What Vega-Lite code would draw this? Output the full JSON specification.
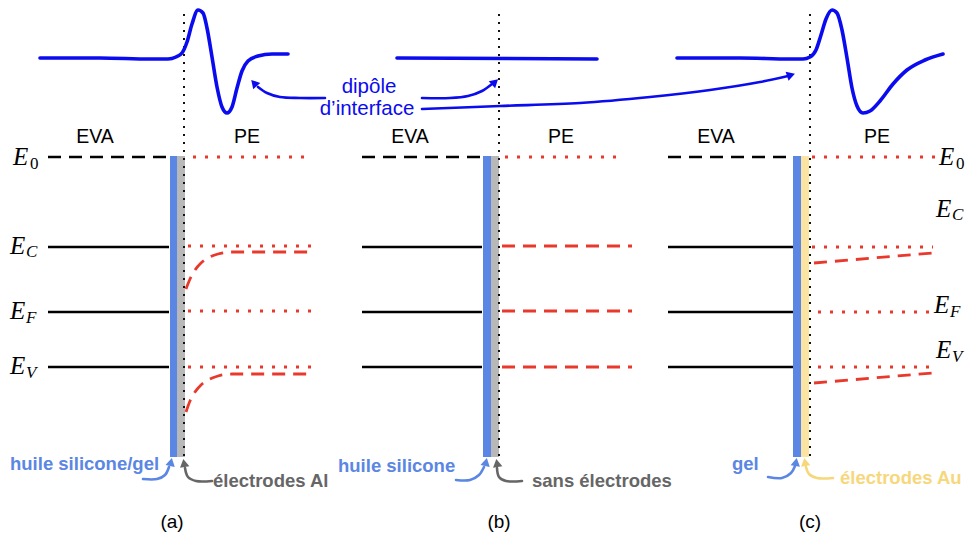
{
  "$schema": "https://vega.github.io/schema/vega-lite/v6.json",
  "width": 965,
  "height": 540,
  "autosize": {"type": "fit", "contains": "padding"},
  "padding": 0,
  "background": "white",
  "config": {"view": {"stroke": null}},
  "datasets": {
    "paths": [
      {"g":"pa","k":"potentiel","o":1,"x":40,"y":58},{"g":"pa","k":"potentiel","o":2,"x":100,"y":58},{"g":"pa","k":"potentiel","o":3,"x":150,"y":59},{"g":"pa","k":"potentiel","o":4,"x":168,"y":59},{"g":"pa","k":"potentiel","o":5,"x":176,"y":57},{"g":"pa","k":"potentiel","o":6,"x":182,"y":53},{"g":"pa","k":"potentiel","o":7,"x":187,"y":42},{"g":"pa","k":"potentiel","o":8,"x":192,"y":24},{"g":"pa","k":"potentiel","o":9,"x":198,"y":10},{"g":"pa","k":"potentiel","o":10,"x":203,"y":13},{"g":"pa","k":"potentiel","o":11,"x":207,"y":28},{"g":"pa","k":"potentiel","o":12,"x":212,"y":57},{"g":"pa","k":"potentiel","o":13,"x":217,"y":87},{"g":"pa","k":"potentiel","o":14,"x":222,"y":107},{"g":"pa","k":"potentiel","o":15,"x":227,"y":113},{"g":"pa","k":"potentiel","o":16,"x":232,"y":107},{"g":"pa","k":"potentiel","o":17,"x":237,"y":88},{"g":"pa","k":"potentiel","o":18,"x":242,"y":71},{"g":"pa","k":"potentiel","o":19,"x":248,"y":61},{"g":"pa","k":"potentiel","o":20,"x":258,"y":56},{"g":"pa","k":"potentiel","o":21,"x":272,"y":54},{"g":"pa","k":"potentiel","o":22,"x":288,"y":54},
      {"g":"pb","k":"potentiel","o":1,"x":397,"y":58},{"g":"pb","k":"potentiel","o":2,"x":597,"y":59},
      {"g":"pc","k":"potentiel","o":1,"x":677,"y":58},{"g":"pc","k":"potentiel","o":2,"x":740,"y":58},{"g":"pc","k":"potentiel","o":3,"x":790,"y":59},{"g":"pc","k":"potentiel","o":4,"x":803,"y":59},{"g":"pc","k":"potentiel","o":5,"x":810,"y":57},{"g":"pc","k":"potentiel","o":6,"x":816,"y":50},{"g":"pc","k":"potentiel","o":7,"x":821,"y":35},{"g":"pc","k":"potentiel","o":8,"x":826,"y":19},{"g":"pc","k":"potentiel","o":9,"x":832,"y":10},{"g":"pc","k":"potentiel","o":10,"x":837,"y":13},{"g":"pc","k":"potentiel","o":11,"x":842,"y":30},{"g":"pc","k":"potentiel","o":12,"x":847,"y":58},{"g":"pc","k":"potentiel","o":13,"x":852,"y":88},{"g":"pc","k":"potentiel","o":14,"x":857,"y":106},{"g":"pc","k":"potentiel","o":15,"x":863,"y":113},{"g":"pc","k":"potentiel","o":16,"x":870,"y":111},{"g":"pc","k":"potentiel","o":17,"x":880,"y":101},{"g":"pc","k":"potentiel","o":18,"x":893,"y":84},{"g":"pc","k":"potentiel","o":19,"x":907,"y":70},{"g":"pc","k":"potentiel","o":20,"x":925,"y":60},{"g":"pc","k":"potentiel","o":21,"x":943,"y":54},
      {"g":"d1","k":"dipole","o":1,"x":325,"y":98},{"g":"d1","k":"dipole","o":2,"x":300,"y":98},{"g":"d1","k":"dipole","o":3,"x":280,"y":97},{"g":"d1","k":"dipole","o":4,"x":267,"y":93},{"g":"d1","k":"dipole","o":5,"x":258,"y":87},
      {"g":"d2","k":"dipole","o":1,"x":422,"y":98},{"g":"d2","k":"dipole","o":2,"x":450,"y":98},{"g":"d2","k":"dipole","o":3,"x":468,"y":96},{"g":"d2","k":"dipole","o":4,"x":482,"y":91},{"g":"d2","k":"dipole","o":5,"x":492,"y":84},
      {"g":"d3","k":"dipole","o":1,"x":422,"y":109},{"g":"d3","k":"dipole","o":2,"x":500,"y":106},{"g":"d3","k":"dipole","o":3,"x":580,"y":103},{"g":"d3","k":"dipole","o":4,"x":650,"y":97},{"g":"d3","k":"dipole","o":5,"x":710,"y":90},{"g":"d3","k":"dipole","o":6,"x":760,"y":82},{"g":"d3","k":"dipole","o":7,"x":788,"y":76},
      {"g":"ha","k":"huile","o":1,"x":143,"y":479},{"g":"ha","k":"huile","o":2,"x":157,"y":479},{"g":"ha","k":"huile","o":3,"x":165,"y":475},{"g":"ha","k":"huile","o":4,"x":169,"y":467},
      {"g":"ea","k":"electrode","o":1,"x":212,"y":481},{"g":"ea","k":"electrode","o":2,"x":196,"y":481},{"g":"ea","k":"electrode","o":3,"x":188,"y":477},{"g":"ea","k":"electrode","o":4,"x":185,"y":468},
      {"g":"hb","k":"huile","o":1,"x":456,"y":480},{"g":"hb","k":"huile","o":2,"x":470,"y":480},{"g":"hb","k":"huile","o":3,"x":479,"y":475},{"g":"hb","k":"huile","o":4,"x":484,"y":467},
      {"g":"eb","k":"electrode","o":1,"x":522,"y":481},{"g":"eb","k":"electrode","o":2,"x":506,"y":481},{"g":"eb","k":"electrode","o":3,"x":499,"y":477},{"g":"eb","k":"electrode","o":4,"x":497,"y":468},
      {"g":"hc","k":"huile","o":1,"x":768,"y":477},{"g":"hc","k":"huile","o":2,"x":782,"y":478},{"g":"hc","k":"huile","o":3,"x":791,"y":473},{"g":"hc","k":"huile","o":4,"x":795,"y":466},
      {"g":"ec","k":"or","o":1,"x":833,"y":478},{"g":"ec","k":"or","o":2,"x":817,"y":478},{"g":"ec","k":"or","o":3,"x":809,"y":474},{"g":"ec","k":"or","o":4,"x":806,"y":467},
      {"g":"ca","k":"pe","o":1,"x":186,"y":289},{"g":"ca","k":"pe","o":2,"x":190,"y":279},{"g":"ca","k":"pe","o":3,"x":195,"y":270},{"g":"ca","k":"pe","o":4,"x":201,"y":263},{"g":"ca","k":"pe","o":5,"x":208,"y":258},{"g":"ca","k":"pe","o":6,"x":218,"y":254},{"g":"ca","k":"pe","o":7,"x":232,"y":252},{"g":"ca","k":"pe","o":8,"x":260,"y":252},{"g":"ca","k":"pe","o":9,"x":312,"y":252},
      {"g":"va","k":"pe","o":1,"x":186,"y":412},{"g":"va","k":"pe","o":2,"x":190,"y":401},{"g":"va","k":"pe","o":3,"x":195,"y":392},{"g":"va","k":"pe","o":4,"x":201,"y":385},{"g":"va","k":"pe","o":5,"x":208,"y":380},{"g":"va","k":"pe","o":6,"x":218,"y":376},{"g":"va","k":"pe","o":7,"x":232,"y":374},{"g":"va","k":"pe","o":8,"x":260,"y":374},{"g":"va","k":"pe","o":9,"x":312,"y":374}
    ],
    "heads": [
      {"k":"dipole","x":254,"y":83,"a":318},
      {"k":"dipole","x":495,"y":82,"a":48},
      {"k":"dipole","x":791,"y":75,"a":72},
      {"k":"huile","x":171,"y":462,"a":12},
      {"k":"electrode","x":184,"y":463,"a":350},
      {"k":"huile","x":486,"y":462,"a":12},
      {"k":"electrode","x":497,"y":463,"a":350},
      {"k":"huile","x":796,"y":462,"a":10},
      {"k":"or","x":805,"y":462,"a":350}
    ],
    "segs": [
      {"k":"eva0","x":48,"x2":168,"y":157,"y2":157},{"k":"eva0","x":362,"x2":481,"y":157,"y2":157},{"k":"eva0","x":668,"x2":787,"y":157,"y2":157},
      {"k":"eva","x":48,"x2":169,"y":247,"y2":247},{"k":"eva","x":48,"x2":169,"y":312,"y2":312},{"k":"eva","x":48,"x2":169,"y":367,"y2":367},
      {"k":"eva","x":362,"x2":482,"y":247,"y2":247},{"k":"eva","x":362,"x2":482,"y":312,"y2":312},{"k":"eva","x":362,"x2":482,"y":367,"y2":367},
      {"k":"eva","x":668,"x2":793,"y":247,"y2":247},{"k":"eva","x":668,"x2":793,"y":312,"y2":312},{"k":"eva","x":668,"x2":793,"y":367,"y2":367},
      {"k":"peref","x":193,"x2":307,"y":157,"y2":157},{"k":"peref","x":188,"x2":312,"y":246,"y2":246},{"k":"peref","x":188,"x2":312,"y":311,"y2":311},{"k":"peref","x":188,"x2":312,"y":367,"y2":367},
      {"k":"peref","x":505,"x2":620,"y":157,"y2":157},
      {"k":"peref","x":812,"x2":935,"y":157,"y2":157},{"k":"peref","x":812,"x2":933,"y":247,"y2":247},{"k":"peref","x":818,"x2":933,"y":312,"y2":312},{"k":"peref","x":818,"x2":930,"y":367,"y2":367},
      {"k":"pe","x":502,"x2":632,"y":246,"y2":246},{"k":"pe","x":502,"x2":632,"y":311,"y2":311},{"k":"pe","x":502,"x2":632,"y":367,"y2":367},
      {"k":"pe","x":814,"x2":933,"y":263,"y2":253},{"k":"pe","x":814,"x2":933,"y":383,"y2":373},
      {"k":"interface","x":184,"x2":184,"y":14,"y2":456},{"k":"interface","x":499,"x2":499,"y":14,"y2":456},{"k":"interface","x":810,"x2":810,"y":14,"y2":456}
    ],
    "bars": [
      {"m":"huile","x":170,"x2":177,"y":156,"y2":457},{"m":"Al","x":177,"x2":185,"y":156,"y2":457},
      {"m":"huile","x":483,"x2":491,"y":156,"y2":457},{"m":"aucune","x":491,"x2":499,"y":156,"y2":457},
      {"m":"huile","x":793,"x2":801,"y":156,"y2":457},{"m":"Au","x":801,"x2":809,"y":156,"y2":457}
    ],
    "zones": [
      {"t":"EVA","x":95,"y":137},{"t":"PE","x":247,"y":137},
      {"t":"EVA","x":410,"y":137},{"t":"PE","x":561,"y":137},
      {"t":"EVA","x":716,"y":137},{"t":"PE","x":877,"y":137}
    ],
    "panels": [
      {"t":"(a)","x":172,"y":522},{"t":"(b)","x":499,"y":522},{"t":"(c)","x":810,"y":522}
    ],
    "E": [
      {"x":13,"y":157},{"x":10,"y":246},{"x":10,"y":311},{"x":10,"y":366},
      {"x":939,"y":157},{"x":936,"y":209},{"x":934,"y":305},{"x":936,"y":350}
    ],
    "sub": [
      {"t":"0","x":30,"y":164},{"t":"C","x":26,"y":252},{"t":"F","x":26,"y":318},{"t":"V","x":26,"y":373},
      {"t":"0","x":956,"y":164},{"t":"C","x":952,"y":215},{"t":"F","x":950,"y":312},{"t":"V","x":952,"y":357}
    ],
    "dip": [
      {"t":"dipôle","x":369,"y":87},{"t":"d’interface","x":367,"y":109}
    ],
    "bottom": [
      {"t":"huile silicone/gel","m":"huile","x":10,"y":464},
      {"t":"électrodes Al","m":"electrode","x":213,"y":481},
      {"t":"huile silicone","m":"huile","x":338,"y":466},
      {"t":"sans électrodes","m":"electrode","x":532,"y":481},
      {"t":"gel","m":"huile","x":732,"y":464},
      {"t":"électrodes Au","m":"or","x":840,"y":478}
    ]
  },
  "encoding": {
    "x": {"field": "x", "type": "quantitative", "scale": {"domain": [0, 965], "nice": false, "zero": false}, "axis": null},
    "y": {"field": "y", "type": "quantitative", "scale": {"domain": [0, 540], "nice": false, "zero": false, "reverse": true}, "axis": null}
  },
  "layer": [
    {
      "data": {"name": "bars"},
      "mark": {"type": "rect"},
      "encoding": {
        "x2": {"field": "x2"}, "y2": {"field": "y2"},
        "fill": {"field": "m", "type": "nominal", "legend": null,
          "scale": {"domain": ["huile", "Al", "aucune", "Au"], "range": ["#5b86e3", "#b8b8b8", "#b8b8b8", "#fbe4a1"]}}
      }
    },
    {
      "data": {"name": "segs"},
      "transform": [{"filter": "datum.k == 'eva0'"}],
      "mark": {"type": "rule", "color": "#000000", "strokeWidth": 2.6, "strokeDash": [13, 8]},
      "encoding": {"x2": {"field": "x2"}, "y2": {"field": "y2"}}
    },
    {
      "data": {"name": "segs"},
      "transform": [{"filter": "datum.k == 'eva'"}],
      "mark": {"type": "rule", "color": "#000000", "strokeWidth": 2.6},
      "encoding": {"x2": {"field": "x2"}, "y2": {"field": "y2"}}
    },
    {
      "data": {"name": "segs"},
      "transform": [{"filter": "datum.k == 'peref'"}],
      "mark": {"type": "rule", "color": "#e8392c", "strokeWidth": 3, "strokeDash": [3, 9]},
      "encoding": {"x2": {"field": "x2"}, "y2": {"field": "y2"}}
    },
    {
      "data": {"name": "segs"},
      "transform": [{"filter": "datum.k == 'pe'"}],
      "mark": {"type": "rule", "color": "#e8392c", "strokeWidth": 2.8, "strokeDash": [13, 8]},
      "encoding": {"x2": {"field": "x2"}, "y2": {"field": "y2"}}
    },
    {
      "data": {"name": "paths"},
      "transform": [{"filter": "datum.k == 'pe'"}],
      "mark": {"type": "line", "color": "#e8392c", "strokeWidth": 2.8, "strokeDash": [13, 8], "interpolate": "monotone"},
      "encoding": {"detail": {"field": "g"}, "order": {"field": "o"}}
    },
    {
      "data": {"name": "segs"},
      "transform": [{"filter": "datum.k == 'interface'"}],
      "mark": {"type": "rule", "color": "#111111", "strokeWidth": 2, "strokeDash": [2, 6]},
      "encoding": {"x2": {"field": "x2"}, "y2": {"field": "y2"}}
    },
    {
      "data": {"name": "paths"},
      "transform": [{"filter": "datum.k == 'potentiel'"}],
      "mark": {"type": "line", "color": "#0b0bf0", "strokeWidth": 3.6, "interpolate": "monotone", "strokeCap": "round"},
      "encoding": {"detail": {"field": "g"}, "order": {"field": "o"}}
    },
    {
      "data": {"name": "paths"},
      "transform": [{"filter": "datum.k != 'potentiel' && datum.k != 'pe'"}],
      "mark": {"type": "line", "strokeWidth": 2.6, "interpolate": "catmull-rom", "strokeCap": "round"},
      "encoding": {
        "detail": {"field": "g"}, "order": {"field": "o"},
        "color": {"field": "k", "type": "nominal", "legend": null,
          "scale": {"domain": ["dipole", "huile", "electrode", "or"], "range": ["#0b0bf0", "#5b86e3", "#666666", "#f7d77c"]}}
      }
    },
    {
      "data": {"name": "heads"},
      "mark": {"type": "point", "shape": "triangle-up", "filled": true, "opacity": 1, "size": 90},
      "encoding": {
        "angle": {"field": "a", "type": "quantitative", "scale": null},
        "color": {"field": "k", "type": "nominal", "legend": null,
          "scale": {"domain": ["dipole", "huile", "electrode", "or"], "range": ["#0b0bf0", "#5b86e3", "#666666", "#f7d77c"]}}
      }
    },
    {
      "data": {"name": "zones"},
      "mark": {"type": "text", "font": "Liberation Sans", "fontSize": 19.5, "color": "#000000", "align": "center", "baseline": "middle"},
      "encoding": {"text": {"field": "t"}}
    },
    {
      "data": {"name": "panels"},
      "mark": {"type": "text", "font": "Liberation Sans", "fontSize": 19, "color": "#000000", "align": "center", "baseline": "middle"},
      "encoding": {"text": {"field": "t"}}
    },
    {
      "data": {"name": "E"},
      "mark": {"type": "text", "text": "E", "font": "Liberation Serif", "fontStyle": "italic", "fontSize": 25, "color": "#000000", "align": "left", "baseline": "middle"}
    },
    {
      "data": {"name": "sub"},
      "transform": [{"filter": "datum.t == '0'"}],
      "mark": {"type": "text", "font": "Liberation Serif", "fontSize": 17, "color": "#000000", "align": "left", "baseline": "middle"},
      "encoding": {"text": {"field": "t"}}
    },
    {
      "data": {"name": "sub"},
      "transform": [{"filter": "datum.t != '0'"}],
      "mark": {"type": "text", "font": "Liberation Serif", "fontStyle": "italic", "fontSize": 17, "color": "#000000", "align": "left", "baseline": "middle"},
      "encoding": {"text": {"field": "t"}}
    },
    {
      "data": {"name": "dip"},
      "mark": {"type": "text", "font": "Liberation Sans", "fontSize": 20.5, "color": "#0b0bf0", "align": "center", "baseline": "middle"},
      "encoding": {"text": {"field": "t"}}
    },
    {
      "data": {"name": "bottom"},
      "mark": {"type": "text", "font": "Liberation Sans", "fontWeight": "bold", "fontSize": 18.5, "align": "left", "baseline": "middle"},
      "encoding": {
        "text": {"field": "t"},
        "color": {"field": "m", "type": "nominal", "legend": null,
          "scale": {"domain": ["dipole", "huile", "electrode", "or"], "range": ["#0b0bf0", "#5b86e3", "#666666", "#f2cd6a"]}}
      }
    }
  ]
}
